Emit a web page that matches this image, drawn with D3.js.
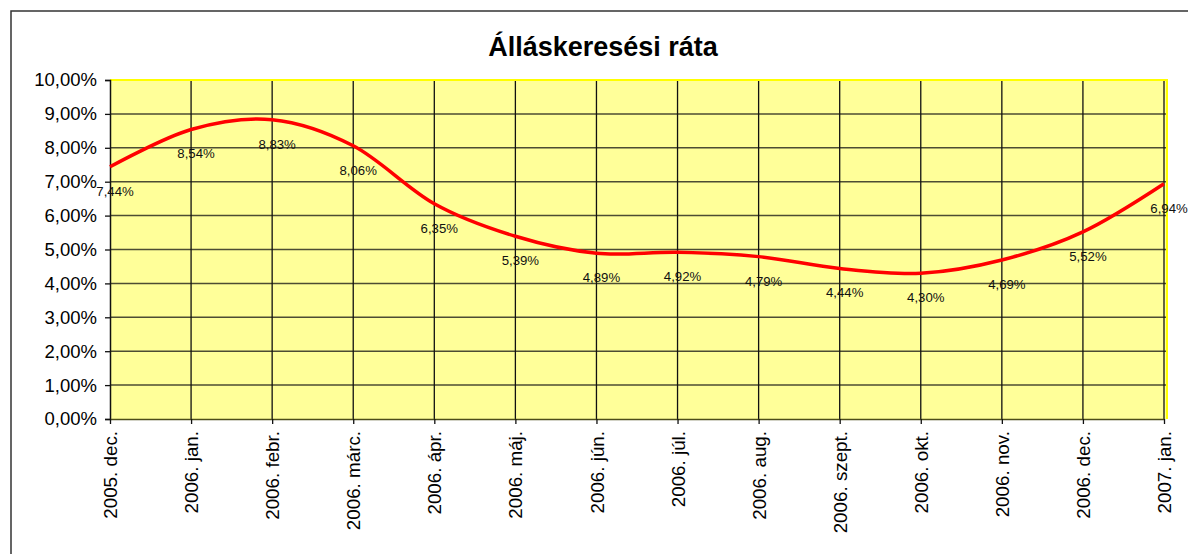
<!DOCTYPE html>
<html>
<head>
	<meta charset="utf-8">
	<title>Álláskeresési ráta</title>
	<style>
		body { margin: 0; background: #fff; }
		svg { display: block; font-family: Arial, "Liberation Sans", sans-serif; }
	</style>
</head>
<body>
	<main></main>
	<script src="https://d3js.org/d3.v7.min.js"></script>
	<script type="text/javascript">

		const months = ["2005. dec.", "2006. jan.", "2006. febr.", "2006. márc.", "2006. ápr.", "2006. máj.",
			"2006. jún.", "2006. júl.", "2006. aug.", "2006. szept.", "2006. okt.", "2006. nov.",
			"2006. dec.", "2007. jan."];
		const rates = [7.44, 8.54, 8.83, 8.06, 6.35, 5.39, 4.89, 4.92, 4.79, 4.44, 4.30, 4.69, 5.52, 6.94];
		const yTicks = [0, 1, 2, 3, 4, 5, 6, 7, 8, 9, 10];

		const width = 1188, height = 554;
		const plot = { left: 110, right: 1167, top: 80, bottom: 419 };

		const fmt = v => d3.format(".2f")(v).replace(".", ",") + "%";

		const svg = d3.select("main").append("svg")
			.attr("width", width)
			.attr("height", height);

		// chart frame
		svg.append("rect")
			.attr("x", 11).attr("y", 11)
			.attr("width", 1300).attr("height", 700)
			.attr("fill", "#fff")
			.attr("stroke", "#333")
			.attr("stroke-width", 1.5);

		svg.append("text")
			.attr("x", 603).attr("y", 56)
			.attr("text-anchor", "middle")
			.style("font-weight", "bold")
			.style("font-size", "27px")
			.text("Álláskeresési ráta");

		const x = d3.scalePoint()
			.domain(months)
			.range([plot.left, plot.right - 3]);

		const y = d3.scaleLinear()
			.domain([0, 10])
			.range([plot.bottom, plot.top]);

		svg.append("rect")
			.attr("x", plot.left).attr("y", plot.top)
			.attr("width", plot.right - plot.left)
			.attr("height", plot.bottom - plot.top)
			.attr("fill", "#ffff99");

		// horizontal grid
		svg.append("g")
			.selectAll("line")
			.data(yTicks.slice(1, -1))
			.join("line")
				.attr("x1", plot.left).attr("x2", plot.right)
				.attr("y1", d => y(d)).attr("y2", d => y(d))
				.attr("stroke", "#4d4d33")
				.attr("stroke-width", 1.5);

		// vertical grid
		svg.append("g")
			.selectAll("line")
			.data(months.slice(1))
			.join("line")
				.attr("x1", d => x(d)).attr("x2", d => x(d))
				.attr("y1", plot.top).attr("y2", plot.bottom)
				.attr("stroke", "#111")
				.attr("stroke-width", 1.3);

		// yellow top and right border
		svg.append("path")
			.attr("d", `M${plot.left},${plot.top}H${plot.right}V${plot.bottom}`)
			.attr("fill", "none")
			.attr("stroke", "#ffff00")
			.attr("stroke-width", 2);

		const yAxis = svg.append("g")
			.attr("transform", `translate(${plot.left},0)`)
			.call(d3.axisLeft(y).tickValues(yTicks).tickSize(5).tickPadding(8).tickFormat(fmt));
		yAxis.select(".domain").attr("stroke", "#111").attr("stroke-width", 1.5);
		yAxis.selectAll(".tick line").attr("stroke", "#111").attr("stroke-width", 1.3);
		yAxis.selectAll("text")
			.attr("fill", "#000")
			.style("font-size", "18.5px")
			.style("font-family", "Arial, 'Liberation Sans', sans-serif");

		const xAxis = svg.append("g")
			.attr("transform", `translate(0,${plot.bottom})`)
			.call(d3.axisBottom(x).tickSize(5).tickSizeOuter(0));
		xAxis.select(".domain").attr("stroke", "#4d4d1a").attr("stroke-width", 1.5);
		xAxis.selectAll(".tick line").attr("stroke", "#111").attr("stroke-width", 1.3);
		xAxis.selectAll("text")
			.attr("fill", "#000")
			.attr("transform", "rotate(-90)")
			.attr("text-anchor", "end")
			.attr("x", -12)
			.attr("y", 0)
			.attr("dy", "0.35em")
			.style("font-size", "18.8px")
			.style("font-family", "Arial, 'Liberation Sans', sans-serif");

		const line = d3.line()
			.x((d, i) => x(months[i]))
			.y(d => y(d))
			.curve(d3.curveCardinal.tension(0));

		svg.append("path")
			.datum(rates)
			.attr("d", line)
			.attr("fill", "none")
			.attr("stroke", "#ff0000")
			.attr("stroke-width", 3.5);

		svg.append("g")
			.selectAll("text")
			.data(rates)
			.join("text")
				.attr("x", (d, i) => x(months[i]) + 5)
				.attr("y", d => y(d) + 29)
				.attr("text-anchor", "middle")
				.style("font-size", "13.2px")
				.attr("fill", "#111")
				.text(fmt);

	</script>
</body>
</html>
